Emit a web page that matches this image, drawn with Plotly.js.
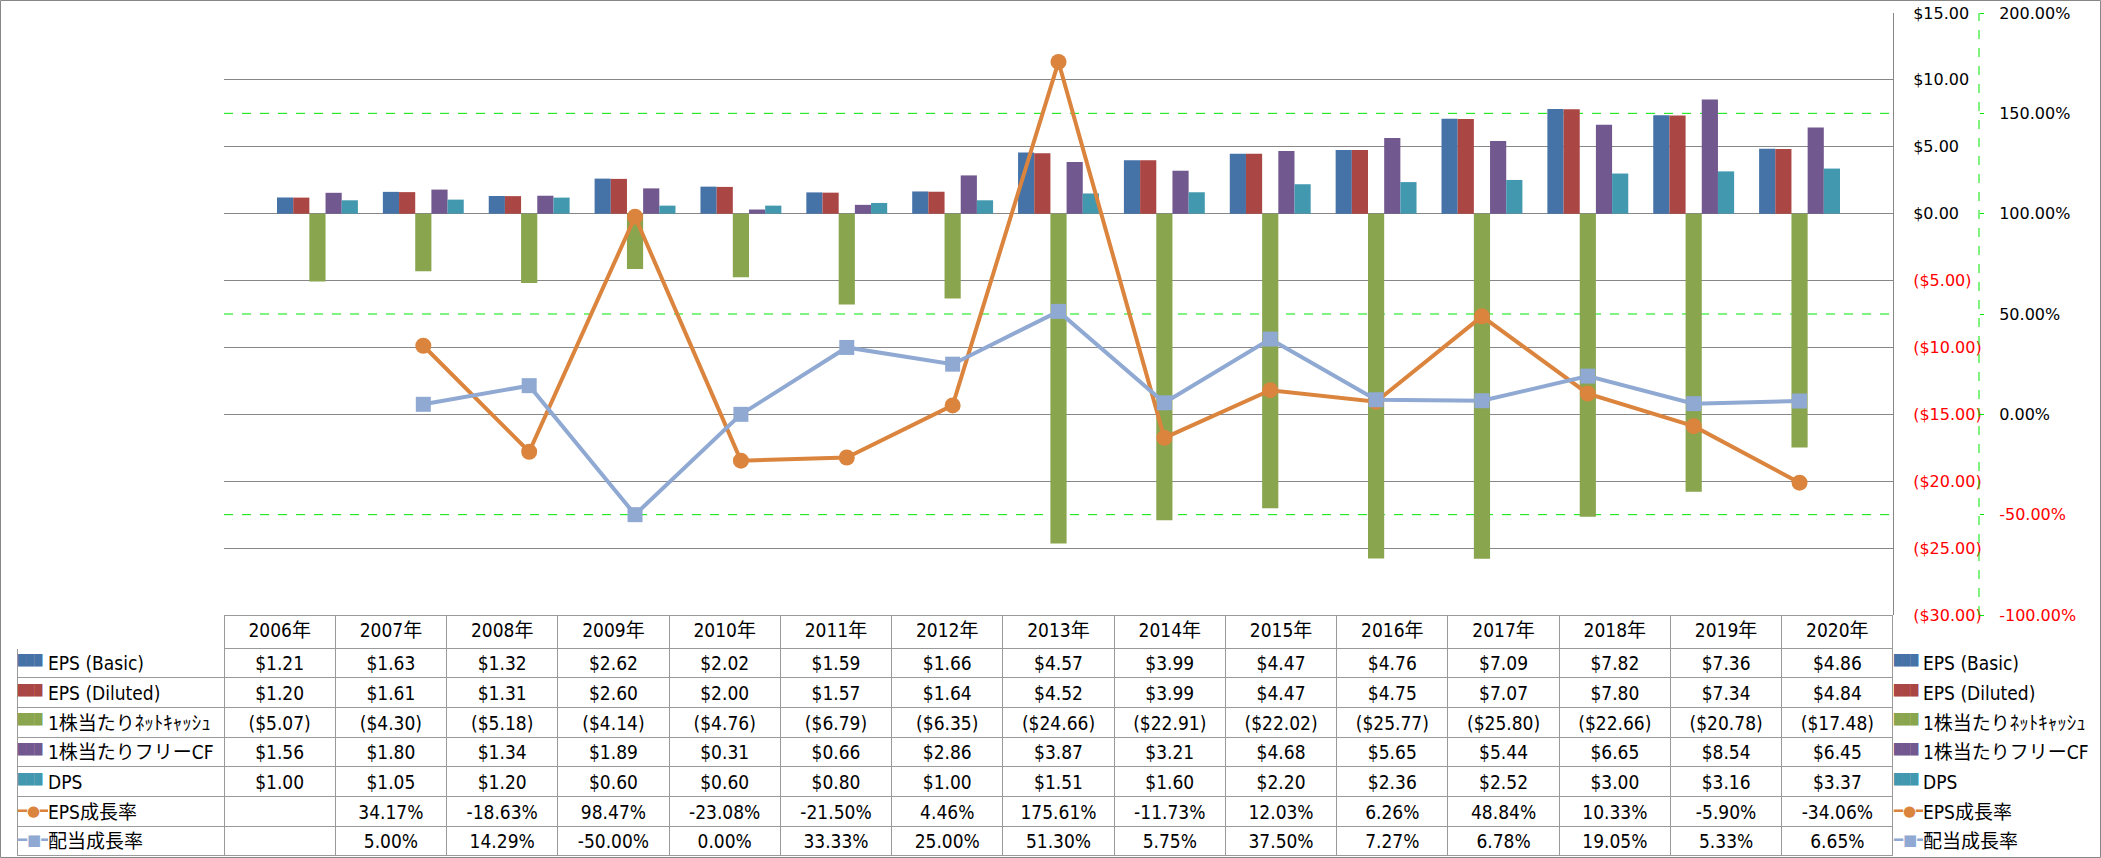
<!DOCTYPE html>
<html><head><meta charset="utf-8">
<script src="https://cdn.plot.ly/plotly-3.0.1.min.js"></script>
<style>html,body{margin:0;padding:0;background:#fff}#chart{width:2101px;height:858px}</style>
</head><body><div id="chart"></div>
<script>
// ---- data ----
const years = ['2006年','2007年','2008年','2009年','2010年','2011年','2012年','2013年','2014年','2015年','2016年','2017年','2018年','2019年','2020年'];
const epsBasic   = [1.21,1.63,1.32,2.62,2.02,1.59,1.66,4.57,3.99,4.47,4.76,7.09,7.82,7.36,4.86];
const epsDiluted = [1.20,1.61,1.31,2.60,2.00,1.57,1.64,4.52,3.99,4.47,4.75,7.07,7.80,7.34,4.84];
const netCashPS  = [-5.07,-4.30,-5.18,-4.14,-4.76,-6.79,-6.35,-24.66,-22.91,-22.02,-25.77,-25.80,-22.66,-20.78,-17.48];
const fcfPS      = [1.56,1.80,1.34,1.89,0.31,0.66,2.86,3.87,3.21,4.68,5.65,5.44,6.65,8.54,6.45];
const dps        = [1.00,1.05,1.20,0.60,0.60,0.80,1.00,1.51,1.60,2.20,2.36,2.52,3.00,3.16,3.37];
const epsGrowth  = [null,34.17,-18.63,98.47,-23.08,-21.50,4.46,175.61,-11.73,12.03,6.26,48.84,10.33,-5.90,-34.06];
const divGrowth  = [null,5.00,14.29,-50.00,0.00,33.33,25.00,51.30,5.75,37.50,7.27,6.78,19.05,5.33,6.65];
const seriesNames = ['EPS (Basic)','EPS (Diluted)','1株当たりﾈｯﾄｷｬｯｼｭ','1株当たりフリーCF','DPS','EPS成長率','配当成長率'];
const dollarTicks = [-30,-25,-20,-15,-10,-5,0,5,10,15];
const pctTicks = [-100,-50,0,50,100,150,200];
const pctGridOnly = [-50,50,150];

// ---- style ----
const W = 2101, H = 858;
const colors = ['#4572A7','#AA4643','#89A54E','#71588F','#4198AF','#DB843D','#8FA9D3'];
const TFONT = 'Liberation Sans Narrow, DejaVu Sans Condensed, Noto Sans CJK JP, sans-serif';
const AFONT = 'DejaVu Sans, Noto Sans CJK JP, sans-serif';
const RED = '#FF0000';
const GRID = '#878787';
const GREEN = '#00E600';
const TLINE = '#9A9A9A';
const NONE = 'rgba(0,0,0,0)';

const fmtUSD = v => v < 0 ? '($' + Math.abs(v).toFixed(2) + ')' : '$' + v.toFixed(2);
const fmtPct = v => v == null ? '' : v.toFixed(2) + '%';
const red = (s, neg) => neg ? '<span style="color:' + RED + '">' + s + '</span>' : s;
const nb = s => s.replace(/ /g, '\u00a0');   // no plain spaces: keeps table rows at fixed height

const plotL = 224, plotR = 1893, plotT = 13, plotB = 615;
const xDom = [plotL / W, plotR / W];
const yDom = [(H - plotB) / H, (H - plotT) / H];

const barSeries = [epsBasic, epsDiluted, netCashPS, fcfPS, dps];
const traces = [];
barSeries.forEach((arr, i) => {
  traces.push({
    type: 'bar', x: years, y: arr, name: seriesNames[i], showlegend: false,
    marker: {color: colors[i], line: {width: 0}}, hoverinfo: 'skip', yaxis: 'y'
  });
});
traces.push({
  type: 'scatter', mode: 'lines+markers', x: years, y: epsGrowth, name: seriesNames[5], showlegend: false,
  yaxis: 'y2', line: {color: colors[5], width: 4}, marker: {symbol: 'circle', size: 16, color: colors[5]},
  hoverinfo: 'skip'
});
traces.push({
  type: 'scatter', mode: 'lines+markers', x: years, y: divGrowth, name: seriesNames[6], showlegend: false,
  yaxis: 'y2', line: {color: colors[6], width: 4}, marker: {symbol: 'square', size: 15, color: colors[6]},
  hoverinfo: 'skip'
});

// ---- data table ----
const HEAD_H = 33, CELL_H = 29.7, FS = 19;
const tableY = [0, (H - plotB) / H];
const tableCols = [seriesNames.map(() => '')];
years.forEach((y, j) => {
  tableCols.push([
    fmtUSD(epsBasic[j]), fmtUSD(epsDiluted[j]), fmtUSD(netCashPS[j]), fmtUSD(fcfPS[j]), fmtUSD(dps[j]),
    fmtPct(epsGrowth[j]), fmtPct(divGrowth[j])
  ]);
});
const colW = [207].concat(years.map(() => (plotR - plotL) / years.length));
traces.push({
  type: 'table',
  domain: {x: [17 / W, plotR / W], y: tableY},
  columnwidth: colW,
  header: {
    values: [''].concat(years), height: HEAD_H, align: 'center',
    fill: {color: '#fff'},
    line: {color: ['#fff'].concat(years.map(() => TLINE)), width: 1},
    font: {family: TFONT, size: FS, color: '#000'}
  },
  cells: {
    values: tableCols, height: CELL_H,
    align: ['left'].concat(years.map(() => 'center')),
    fill: {color: '#fff'}, line: {color: TLINE, width: 1},
    font: {family: TFONT, size: FS, color: '#000'}
  },
  hoverinfo: 'skip'
});

// ---- series keys + labels (row headers on the left, legend on the right), same row grid as the table ----
const keyText = ['███','███','███','███','███','━●━','━■━'];
const keySize = [10.5, 10.5, 10.5, 10.5, 10.5, 15, 15];
function overlay(x0, x1, vals, fontSpec) {
  return {
    type: 'table',
    domain: {x: [x0 / W, x1 / W], y: tableY},
    header: {values: [''], height: HEAD_H, align: 'left', fill: {color: NONE}, line: {color: NONE, width: 0},
             font: {family: TFONT, size: FS, color: '#000'}},
    cells: {values: [vals], height: CELL_H, align: 'left', fill: {color: NONE}, line: {color: NONE, width: 0},
            font: fontSpec},
    hoverinfo: 'skip'
  };
}
const keyFont = {family: 'DejaVu Sans', size: [keySize], color: [colors]};
const labelFont = {family: TFONT, size: FS, color: '#000'};
const labels = seriesNames.map(nb);
traces.push(overlay(10, 48, keyText, keyFont));
traces.push(overlay(40, 222, labels, labelFont));
traces.push(overlay(1886, 1924, keyText, keyFont));
traces.push(overlay(1915, W - 3, labels, labelFont));

// green dashed gridlines of the percent axis (only where they don't coincide with the $ gridlines)
const greenGrid = pctGridOnly.map(v => ({
  type: 'line', xref: 'x domain', x0: 0, x1: 1, yref: 'y2', y0: v, y1: v, layer: 'below',
  line: {color: GREEN, width: 1, dash: 'dash'}
}));

const layout = {
  width: W, height: H,
  margin: {l: 0, r: 0, t: 0, b: 0},
  paper_bgcolor: '#fff', plot_bgcolor: '#fff',
  barmode: 'group', bargap: 0.236, bargroupgap: 0,
  showlegend: false,
  xaxis: {
    domain: xDom, type: 'category', showticklabels: false, showgrid: false,
    showline: false, zeroline: false, ticks: '', fixedrange: true
  },
  yaxis: {
    domain: yDom, range: [-30, 15], side: 'right',
    tickvals: dollarTicks, ticktext: dollarTicks.map(v => red(fmtUSD(v), v < 0)),
    showgrid: true, gridcolor: GRID, gridwidth: 1,
    showline: true, linecolor: GRID, linewidth: 1, mirror: false,
    zeroline: false, ticks: '', ticklabelstandoff: 16,
    tickfont: {family: AFONT, size: 16, color: '#000'}, fixedrange: true
  },
  yaxis2: {
    overlaying: 'y', side: 'right', anchor: 'free', position: 1979 / W,
    range: [-100, 200], tickvals: pctTicks, ticktext: pctTicks.map(v => red(fmtPct(v), v < 0)),
    showgrid: false, zeroline: false, showline: false,
    ticks: 'outside', ticklen: 4, tickcolor: GREEN, tickwidth: 1,
    ticklabelstandoff: 12,
    tickfont: {family: AFONT, size: 16, color: '#000'}, fixedrange: true
  },
  shapes: greenGrid.concat([
    {type: 'line', xref: 'paper', yref: 'y domain', x0: 1979 / W, x1: 1979 / W, y0: 0, y1: 1,
     line: {color: GREEN, width: 1, dash: 'dash'}},
    {type: 'rect', xref: 'paper', yref: 'paper', x0: 0.5 / W, x1: 1 - 0.5 / W, y0: 0.5 / H, y1: 1 - 0.5 / H,
     line: {color: GRID, width: 1}, fillcolor: NONE, layer: 'above'}
  ])
};

Plotly.newPlot('chart', traces, layout, {displayModeBar: false, staticPlot: true});
</script>
</body></html>
